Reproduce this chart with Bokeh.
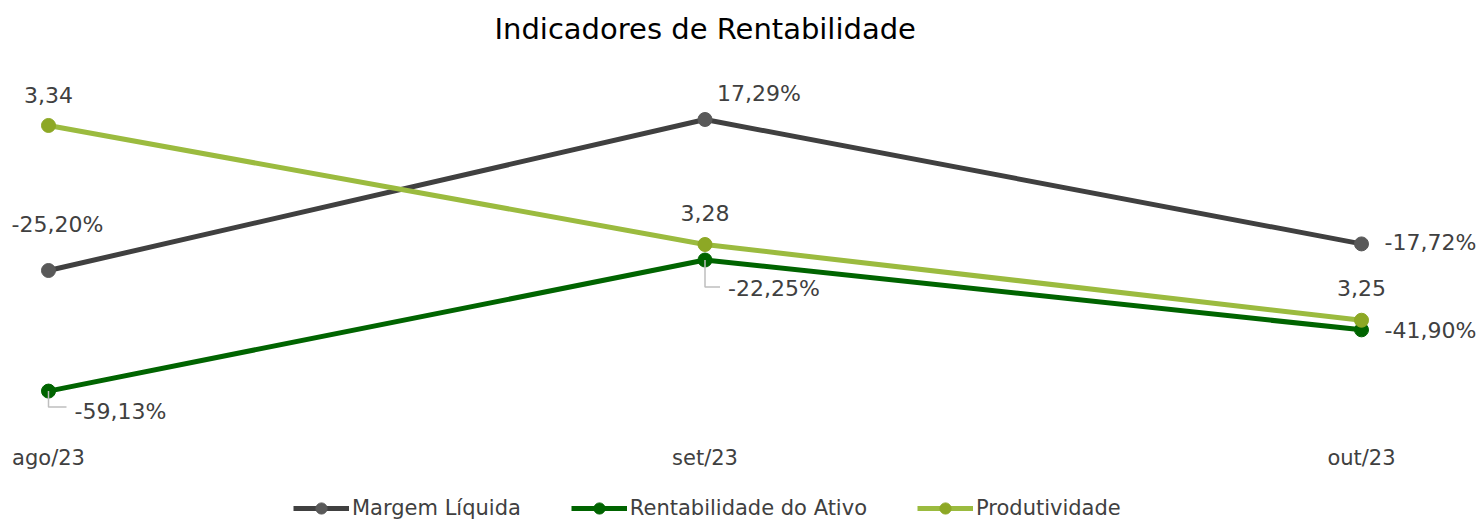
from bokeh.plotting import figure
from bokeh.models import Range1d, Legend, LegendItem, ColumnDataSource, FixedTicker
from bokeh.core.properties import value
from bokeh.embed import file_html
from bokeh.resources import INLINE

# ---- data ----
months = ["ago/23", "set/23", "out/23"]
margem = [-25.20, 17.29, -17.72]
rentab = [-59.13, -22.25, -41.90]
produt = [3.338, 3.283, 3.248]

FONT = "DejaVu Sans"
W, H = 1477, 520
FT, FB = 50, 520   # frame top / bottom (page px)

xs = list(range(len(months)))
pxu = 656.5
x0 = (0 - 48) / pxu
x1 = 2 + (W - 1361) / pxu
ppct = 3.554
y0 = -25.2 - (FB - 270) / ppct
y1 = -25.2 + (270 - FT) / ppct
pprod = 2164
s0 = 3.283 - (FB - 244) / pprod
s1 = 3.283 + (244 - FT) / pprod

p = figure(width=W, height=H, output_backend="svg", toolbar_location=None,
           x_range=Range1d(x0, x1), y_range=Range1d(y0, y1),
           y_axis_location=None, title="Indicadores de Rentabilidade",
           min_border_left=0, min_border_right=0,
           min_border_top=FT, min_border_bottom=0)
p.extra_y_ranges = {"prod": Range1d(s0, s1)}
p.outline_line_color = None
p.grid.visible = False
p.background_fill_color = "white"
p.border_fill_color = "white"

p.title.align = "left"
p.title.offset = 494
p.title.text_line_height = 0.8
p.title.text_font = FONT
p.title.text_font_size = "29px"
p.title.text_font_style = "normal"
p.title.text_color = "#000000"

ax = p.xaxis[0]
ax.ticker = FixedTicker(ticks=xs)
ax.major_label_overrides = {i: m for i, m in enumerate(months)}
ax.axis_line_color = None
ax.major_tick_line_color = None
ax.minor_tick_line_color = None
ax.major_label_text_font = FONT
ax.major_label_text_font_size = "21px"
ax.major_label_text_color = "#404040"
ax.major_label_standoff = 0
ax.fixed_location = -25.2 - (439 - 270) / ppct

def fmt_pct(v):
    return f"{v:.2f}".replace(".", ",") + "%"

def fmt_num(v):
    return f"{v:.2f}".replace(".", ",")

series = [
    ("Margem Líquida", margem, "#404040", "#595959", "default", fmt_pct,
     [(9, 46, "center"), (12, 26, "left"), (23, 1, "left")]),
    ("Rentabilidade do Ativo", rentab, "#006400", "#006400", "default", fmt_pct,
     [(26, -20, "left"), (23, -28, "left"), (23, -1, "left")]),
    ("Produtividade", produt, "#9BBB3F", "#8DA825", "prod", fmt_num,
     [(0, 30, "center"), (0, 32, "center"), (0, 32, "center")]),
]

items = []
for name, vals, lc, mc, rng, f, offs in series:
    src = ColumnDataSource(dict(x=xs, y=vals))
    ln = p.line("x", "y", source=src, line_color=lc, line_width=5, y_range_name=rng)
    sc = p.scatter("x", "y", source=src, size=14, fill_color=mc, line_color=mc, y_range_name=rng)
    items.append(LegendItem(label=name, renderers=[ln, sc]))
    for i, v in enumerate(vals):
        dx, dy, al = offs[i]
        p.text(x=[xs[i]], y=[v], text=[f(v)], x_offset=dx, y_offset=-dy,
               text_align=al, text_baseline="middle", text_font=value(FONT),
               text_font_size="22px", text_color="#404040", y_range_name=rng)

# leader lines for the two labels placed below-right of their points
for i, dn, rt in [(0, 16, 18), (1, 27, 15)]:
    v = rentab[i]
    p.line(x=[xs[i], xs[i], xs[i] + rt / pxu], y=[v, v - dn / ppct, v - dn / ppct],
           line_color="#BFBFBF", line_width=1.5)

leg = Legend(items=items, orientation="horizontal", location=(293, -2),
             label_text_font=FONT, label_text_font_size="21px", label_text_color="#404040",
             glyph_width=56, glyph_height=28, spacing=50, label_standoff=3,
             padding=0, margin=0, border_line_color=None, background_fill_alpha=0)
p.add_layout(leg, "center")

open("out.html", "w").write(file_html(p, INLINE))
